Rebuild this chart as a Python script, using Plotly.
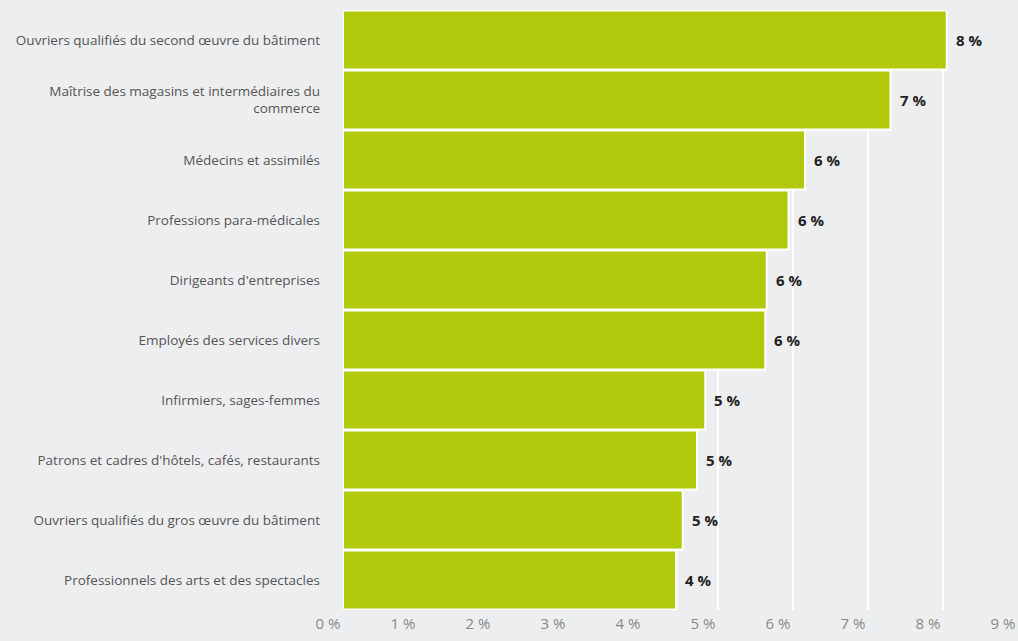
import plotly.graph_objects as go

categories = [
    "Ouvriers qualifiés du second œuvre du bâtiment",
    "Maîtrise des magasins et intermédiaires du<br>commerce",
    "Médecins et assimilés",
    "Professions para-médicales",
    "Dirigeants d'entreprises",
    "Employés des services divers",
    "Infirmiers, sages-femmes",
    "Patrons et cadres d'hôtels, cafés, restaurants",
    "Ouvriers qualifiés du gros œuvre du bâtiment",
    "Professionnels des arts et des spectacles",
]
values = [8.05, 7.30, 6.16, 5.94, 5.65, 5.63, 4.83, 4.72, 4.53, 4.44]
value_labels = ["8 %", "7 %", "6 %", "6 %", "6 %", "6 %", "5 %", "5 %", "5 %", "4 %"]
tick_vals = [0, 1, 2, 3, 4, 5, 6, 7, 8, 9]
tick_text = ["0 %", "1 %", "2 %", "3 %", "4 %", "5 %", "6 %", "7 %", "8 %", "9 %"]

BG = "#edeef0"
GREEN = "#b0ca0b"

fig = go.Figure()
fig.add_trace(go.Bar(
    x=values,
    y=categories,
    orientation="h",
    marker=dict(color=GREEN, line=dict(color="white", width=2)),
    hoverinfo="x+y",
))

for v, c, t in zip(values, categories, value_labels):
    fig.add_annotation(
        x=v, y=c, text="<b>" + t + "</b>", showarrow=False,
        xanchor="left", xshift=7, yanchor="middle",
        font=dict(family="Open Sans", size=15, color="#222222"),
    )

fig.update_layout(
    width=1018, height=641,
    paper_bgcolor=BG, plot_bgcolor=BG,
    margin=dict(l=343, r=0, t=10, b=31),
    bargap=0.02,
    showlegend=False,
    font=dict(family="Open Sans", color="#555555"),
)
fig.update_xaxes(
    range=[0, 9],
    tickvals=tick_vals, ticktext=tick_text,
    showgrid=True, gridcolor="white", gridwidth=2,
    zeroline=False, showline=False,
    tickfont=dict(family="Open Sans", size=15, color="#888888"),
    ticklabelshift=-15,
    ticklabelstandoff=3,
)
fig.update_yaxes(
    autorange="reversed",
    showgrid=False, zeroline=False, showline=False,
    ticks="", ticklabelstandoff=22,
    tickfont=dict(family="Open Sans", size=13.5, color="#555555"),
)

fig.write_html(
    "out.html",
    config={"displayModeBar": False},
    post_script="document.body.style.margin='0';document.body.style.overflow='hidden';",
)
